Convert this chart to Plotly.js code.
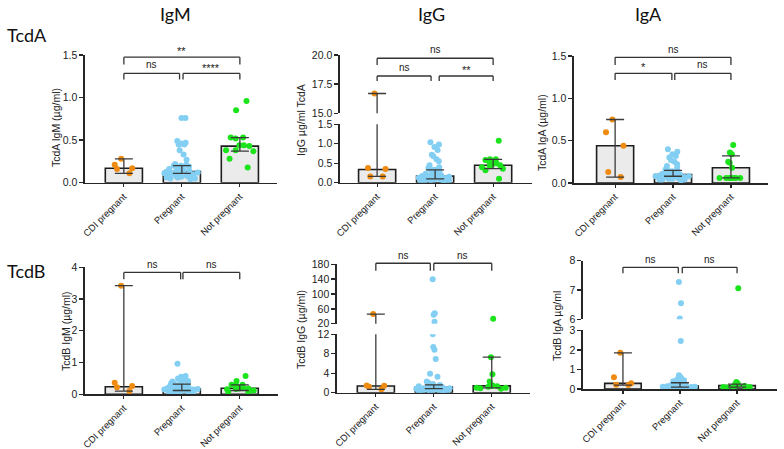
<!DOCTYPE html>
<html><head><meta charset="utf-8">
<script src="https://cdn.plot.ly/plotly-3.0.1.min.js"></script>
<style>html,body{margin:0;padding:0;background:#fff}#chart{width:784px;height:449px}</style>
</head><body><div id="chart"></div>
<script>
const groups = ["CDI pregnant", "Pregnant", "Not pregnant"];

// ---- TcdA IgM ----
const tcdaIgM_cdi = [0.28, 0.21, 0.17, 0.16, 0.11];
const tcdaIgM_preg = [0.76, 0.76, 0.49, 0.47, 0.46, 0.45, 0.45, 0.38, 0.33, 0.27, 0.22, 0.21, 0.2, 0.2, 0.2, 0.19, 0.18, 0.17, 0.16, 0.15, 0.15, 0.14, 0.14, 0.13, 0.13, 0.12, 0.12, 0.11, 0.11, 0.1, 0.1, 0.09, 0.09, 0.08, 0.08, 0.07, 0.07, 0.06, 0.06, 0.05, 0.05, 0.04];
const tcdaIgM_np = [0.96, 0.85, 0.53, 0.53, 0.52, 0.44, 0.44, 0.43, 0.38, 0.38, 0.37, 0.28, 0.18];
const tcdaIgM_median = [0.17, 0.13, 0.43];
const tcdaIgM_low = [0.11, 0.11, 0.37];
const tcdaIgM_high = [0.28, 0.20, 0.53];

// ---- TcdA IgG ----
const tcdaIgG_cdi = [16.7, 0.38, 0.35, 0.16, 0.16];
const tcdaIgG_preg = [1.04, 0.98, 0.92, 0.84, 0.72, 0.68, 0.6, 0.55, 0.45, 0.4, 0.38, 0.35, 0.33, 0.3, 0.28, 0.25, 0.23, 0.22, 0.2, 0.19, 0.18, 0.17, 0.17, 0.16, 0.15, 0.14, 0.13, 0.12, 0.11, 0.1, 0.1, 0.09, 0.08, 0.08, 0.07, 0.06, 0.05, 0.05, 0.04, 0.03];
const tcdaIgG_np = [1.08, 0.6, 0.6, 0.58, 0.52, 0.5, 0.48, 0.45, 0.42, 0.4, 0.36, 0.32, 0.1];
const tcdaIgG_median = [0.34, 0.17, 0.45];
const tcdaIgG_low = [0.16, 0.10, 0.36];
const tcdaIgG_high = [16.7, 0.33, 0.60];

// ---- TcdA IgA ----
const tcdaIgA_cdi = [0.75, 0.6, 0.44, 0.13, 0.07];
const tcdaIgA_preg = [0.4, 0.37, 0.34, 0.32, 0.3, 0.27, 0.25, 0.22, 0.2, 0.18, 0.16, 0.15, 0.14, 0.13, 0.12, 0.12, 0.11, 0.11, 0.1, 0.1, 0.1, 0.09, 0.09, 0.09, 0.08, 0.08, 0.08, 0.07, 0.07, 0.07, 0.06, 0.06, 0.06, 0.05, 0.05, 0.05, 0.04, 0.04, 0.04, 0.03];
const tcdaIgA_np = [0.45, 0.36, 0.34, 0.25, 0.24, 0.18, 0.06, 0.06, 0.06, 0.06, 0.06, 0.06, 0.06];
const tcdaIgA_median = [0.44, 0.10, 0.18];
const tcdaIgA_low = [0.07, 0.08, 0.06];
const tcdaIgA_high = [0.75, 0.15, 0.32];

// ---- TcdB IgM ----
const tcdbIgM_cdi = [3.42, 0.36, 0.26, 0.22, 0.1];
const tcdbIgM_preg = [0.96, 0.58, 0.55, 0.52, 0.5, 0.47, 0.45, 0.42, 0.4, 0.38, 0.35, 0.33, 0.32, 0.3, 0.28, 0.27, 0.25, 0.24, 0.22, 0.21, 0.2, 0.2, 0.19, 0.18, 0.17, 0.16, 0.15, 0.15, 0.14, 0.13, 0.12, 0.12, 0.11, 0.1, 0.09, 0.08, 0.07, 0.06, 0.05, 0.03];
const tcdbIgM_np = [0.58, 0.42, 0.3, 0.3, 0.29, 0.2, 0.18, 0.18, 0.17, 0.16, 0.12, 0.08, 0.06];
const tcdbIgM_median = [0.24, 0.17, 0.19];
const tcdbIgM_low = [0.10, 0.12, 0.12];
const tcdbIgM_high = [3.42, 0.32, 0.30];

// ---- TcdB IgG ----
const tcdbIgG_cdi = [46, 1.5, 1.45, 1.2, 0.7];
const tcdbIgG_preg = [140, 48, 44, 25, 12, 9.4, 8.8, 6.9, 3.9, 3.3, 2.3, 2.0, 1.8, 1.6, 1.5, 1.4, 1.3, 1.3, 1.2, 1.2, 1.1, 1.1, 1.0, 1.0, 0.9, 0.9, 0.8, 0.8, 0.7, 0.7, 0.6, 0.6, 0.5, 0.5, 0.4, 0.4, 0.3, 0.3, 0.2, 0.1];
const tcdbIgG_np = [33, 7.3, 3.8, 2.3, 1.6, 1.5, 1.4, 1.3, 1.2, 1.0, 1.0, 0.9, 0.8];
const tcdbIgG_median = [1.38, 1.15, 1.4];
const tcdbIgG_low = [0.7, 0.85, 1.0];
const tcdbIgG_high = [46, 1.6, 7.3];

// ---- TcdB IgA ----
const tcdbIgA_cdi = [1.85, 0.6, 0.3, 0.22, 0.2];
const tcdbIgA_preg = [7.27, 6.55, 6.03, 2.45, 0.7, 0.65, 0.6, 0.55, 0.5, 0.45, 0.4, 0.35, 0.3, 0.28, 0.25, 0.22, 0.2, 0.2, 0.18, 0.17, 0.16, 0.15, 0.14, 0.13, 0.12, 0.12, 0.11, 0.1, 0.1, 0.09, 0.08, 0.08, 0.07, 0.06, 0.05, 0.05, 0.04, 0.03, 0.02, 0.01];
const tcdbIgA_np = [7.06, 0.36, 0.3, 0.25, 0.22, 0.2, 0.18, 0.15, 0.12, 0.1, 0.1, 0.08, 0.07];
const tcdbIgA_median = [0.29, 0.15, 0.17];
const tcdbIgA_low = [0.2, 0.1, 0.1];
const tcdbIgA_high = [1.85, 0.32, 0.25];

// ---- text ----
const colTitles = ["IgM", "IgG", "IgA"];
const rowTitles = ["TcdA", "TcdB"];
const yTitles = ["TcdA IgM (µg/ml)", "IgG µg/ml TcdA", "TcdA IgA (µg/ml)", "TcdB IgM (µg/ml)", "TcdB IgG (µg/ml)", "TcdB IgA µg/ml"];

// ================= layout / styling =================
const W = 784, H = 449;
const px2x = p => p / W, px2y = p => 1 - p / H;
const COLORS = ['#EE8B10', '#83CFF3', '#1CE41C'];
const AXC = '#262626';
const TICKFONT = {family: 'Liberation Sans, Arial, sans-serif', size: 10.5, color: '#222'};
const XTICKFONT = {family: 'Liberation Sans, Arial, sans-serif', size: 9.5, color: '#1a1a1a'};

const panels = [
  {pts: [tcdaIgM_cdi, tcdaIgM_preg, tcdaIgM_np], med: tcdaIgM_median, low: tcdaIgM_low, high: tcdaIgM_high,
   xa: 'x', xPx: [85, 277], xr: [-0.67, 2.64],
   axes: [{ya: 'y', px: [182.7, 55], range: [0, 1.5], tickvals: [0, 0.5, 1, 1.5], fmt: '.1f'}],
   title: yTitles[0], titlePx: [56, 128],
   brackets: [[0, 2, 1.474, 1.389, '**', 6.5], [0, 0.96, 1.283, 1.213, 'ns', 9], [1.02, 2, 1.283, 1.213, '****', 5]]},
  {pts: [tcdaIgG_cdi, tcdaIgG_preg, tcdaIgG_np], med: tcdaIgG_median, low: tcdaIgG_low, high: tcdaIgG_high,
   xa: 'x2', xPx: [340, 532], xr: [-0.64, 2.67],
   axes: [{ya: 'y2', px: [182.7, 124.3], range: [0, 1.5], tickvals: [0, 0.5, 1, 1.5], fmt: '.1f'},
          {ya: 'y3', px: [113.3, 55], range: [15, 20], tickvals: [15, 17.5, 20], fmt: '.1f'}],
   title: yTitles[1], titlePx: [301, 120],
   brackets: [[0, 2, 19.72, 19.14, 'ns', 8.3], [0, 0.93, 18.2, 17.77, 'ns', 8.3], [1.07, 2, 18.2, 17.77, '**', 6]]},
  {pts: [tcdaIgA_cdi, tcdaIgA_preg, tcdaIgA_np], med: tcdaIgA_median, low: tcdaIgA_low, high: tcdaIgA_high,
   xa: 'x3', xPx: [574, 768], xr: [-0.71, 2.64],
   axes: [{ya: 'y4', px: [183, 56], range: [0, 1.5], tickvals: [0, 0.5, 1, 1.5], fmt: '.1f'}],
   title: yTitles[2], titlePx: [542, 133],
   brackets: [[0, 2, 1.484, 1.393, 'ns', 8.3], [0, 0.98, 1.295, 1.216, '*', 6.5], [1.03, 2, 1.295, 1.216, 'ns', 9]]},
  {pts: [tcdbIgM_cdi, tcdbIgM_preg, tcdbIgM_np], med: tcdbIgM_median, low: tcdbIgM_low, high: tcdbIgM_high,
   xa: 'x4', xPx: [85, 278], xr: [-0.67, 2.66],
   axes: [{ya: 'y5', px: [394.3, 267.3], range: [0, 4], tickvals: [0, 1, 2, 3, 4], fmt: 'd'}],
   title: yTitles[3], titlePx: [66, 331],
   brackets: [[0, 0.98, 3.84, 3.62, 'ns', 8], [1.02, 2, 3.84, 3.62, 'ns', 8]]},
  {pts: [tcdbIgG_cdi, tcdbIgG_preg, tcdbIgG_np], med: tcdbIgG_median, low: tcdbIgG_low, high: tcdbIgG_high,
   xa: 'x5', xPx: [337, 530], xr: [-0.67, 2.66],
   axes: [{ya: 'y6', px: [392.7, 334.3], range: [0, 12], tickvals: [0, 4, 8, 12], fmt: 'd'},
          {ya: 'y7', px: [323.7, 264.3], range: [20, 180], tickvals: [20, 60, 100, 140, 180], fmt: 'd'}],
   title: yTitles[4], titlePx: [301, 330],
   brackets: [[0, 0.94, 182.8, 162.9, 'ns', 7.3], [1.0, 2, 182.8, 162.9, 'ns', 7.3]]},
  {pts: [tcdbIgA_cdi, tcdbIgA_preg, tcdbIgA_np], med: tcdbIgA_median, low: tcdbIgA_low, high: tcdbIgA_high,
   xa: 'x6', xPx: [583, 777], xr: [-0.7, 2.7],
   axes: [{ya: 'y8', px: [389, 330.3], range: [0, 3], tickvals: [0, 1, 2, 3], fmt: 'd'},
          {ya: 'y9', px: [319.3, 260.7], range: [6, 8], tickvals: [6, 7, 8], fmt: 'd'}],
   title: yTitles[5], titlePx: [557, 326],
   brackets: [[0, 0.97, 7.775, 7.57, 'ns', 7.3], [1.04, 2, 7.775, 7.57, 'ns', 7.3]]}
];

const axKey = (id, letter) => letter + 'axis' + (id.length > 1 ? id.slice(1) : '');

const traces = [];
const layout = {
  width: W, height: H, margin: {l: 0, r: 0, t: 0, b: 0},
  showlegend: false, paper_bgcolor: '#fff', plot_bgcolor: 'rgba(0,0,0,0)',
  shapes: [], annotations: [], boxmode: 'overlay', barmode: 'overlay'
};

panels.forEach(p => {
  layout[axKey(p.xa, 'x')] = {
    domain: [px2x(p.xPx[0]), px2x(p.xPx[1])], range: p.xr,
    type: 'category', categoryorder: 'array', categoryarray: groups,
    anchor: p.axes[0].ya, showline: true, linecolor: AXC, linewidth: 1.6,
    ticks: 'outside', ticklen: 3, tickwidth: 1.2, tickcolor: AXC,
    tickangle: -45, tickfont: XTICKFONT, showgrid: false, zeroline: false, fixedrange: true
  };
  p.axes.forEach((a, ai) => {
    layout[axKey(a.ya, 'y')] = {
      domain: [px2y(a.px[0]), px2y(a.px[1])], range: a.range, anchor: p.xa,
      tickvals: a.tickvals, tickformat: a.fmt, showline: true, linecolor: AXC, linewidth: 1.6,
      ticks: 'outside', ticklen: 4, tickwidth: 1.4, tickcolor: AXC, tickfont: TICKFONT,
      showgrid: false, zeroline: false, fixedrange: true
    };
    if (ai === 0) {
      traces.push({type: 'bar', x: groups, y: p.med, xaxis: p.xa, yaxis: a.ya, width: 0.64,
        marker: {color: '#EBEBEB', line: {color: '#1e1e1e', width: 1.6}}, hoverinfo: 'skip'});
    }
    p.pts.forEach((vals, gi) => {
      traces.push({type: 'box', x: vals.map(() => groups[gi]), y: vals, xaxis: p.xa, yaxis: a.ya,
        boxpoints: 'all', jitter: gi === 0 ? 0.6 : 1, pointpos: 0, width: 0.62,
        fillcolor: 'rgba(0,0,0,0)', line: {width: 0, color: 'rgba(0,0,0,0)'}, whiskerwidth: 0,
        marker: {color: COLORS[gi], size: 6, line: {width: 0}}, hoverinfo: 'skip'});
    });
    traces.push({type: 'scatter', mode: 'markers', x: groups, y: p.med, xaxis: p.xa, yaxis: a.ya,
      marker: {size: 1, opacity: 0}, hoverinfo: 'skip',
      error_y: {type: 'data', symmetric: false,
        array: p.high.map((h, i) => h - p.med[i]), arrayminus: p.low.map((l, i) => p.med[i] - l),
        color: '#3a3a3a', thickness: 1.3, width: 9}});
  });
  // y title
  layout.annotations.push({text: p.title, xref: 'paper', yref: 'paper', x: px2x(p.titlePx[0]), y: px2y(p.titlePx[1]),
    xanchor: 'center', yanchor: 'middle', textangle: -90, showarrow: false,
    font: {family: 'Liberation Sans, Arial, sans-serif', size: 10.5, color: '#222'}});
  // significance brackets (drawn on the top axis segment)
  const top = p.axes[p.axes.length - 1];
  const xr = p.xr, yr = top.range;
  const xf = v => (v - xr[0]) / (xr[1] - xr[0]);
  const yf = v => (v - yr[0]) / (yr[1] - yr[0]);
  const xref = p.xa + ' domain', yref = top.ya + ' domain';
  p.brackets.forEach(b => {
    const [a0, a1, yl, yg, lab, sh] = b;
    const ln = {color: '#333', width: 1.3};
    layout.shapes.push({type: 'line', xref, yref, x0: xf(a0), x1: xf(a1), y0: yf(yl), y1: yf(yl), line: ln});
    layout.shapes.push({type: 'line', xref, yref, x0: xf(a0), x1: xf(a0), y0: yf(yl), y1: yf(yg), line: ln});
    layout.shapes.push({type: 'line', xref, yref, x0: xf(a1), x1: xf(a1), y0: yf(yl), y1: yf(yg), line: ln});
    layout.annotations.push({text: lab, xref, yref, x: xf((a0 + a1) / 2), y: yf(yl), yshift: sh,
      xanchor: 'center', yanchor: 'middle', showarrow: false,
      font: {family: 'Liberation Sans, Arial, sans-serif', size: lab === 'ns' ? 10 : 11, color: '#222'}});
  });
});

// column & row titles
const colX = [175, 431, 648];
colTitles.forEach((t, i) => layout.annotations.push({text: t, xref: 'paper', yref: 'paper',
  x: px2x(colX[i]), y: px2y(14), xanchor: 'center', yanchor: 'middle', showarrow: false,
  font: {family: 'Lato, Noto Sans, sans-serif', size: 18, color: '#111'}}));
const rowY = [35, 271];
rowTitles.forEach((t, i) => layout.annotations.push({text: t, xref: 'paper', yref: 'paper',
  x: px2x(5), y: px2y(rowY[i]), xanchor: 'left', yanchor: 'middle', showarrow: false,
  font: {family: 'Lato, Noto Sans, sans-serif', size: 18, color: '#111'}}));

Plotly.newPlot('chart', traces, layout, {staticPlot: true, displayModeBar: false});
</script>
</body></html>
